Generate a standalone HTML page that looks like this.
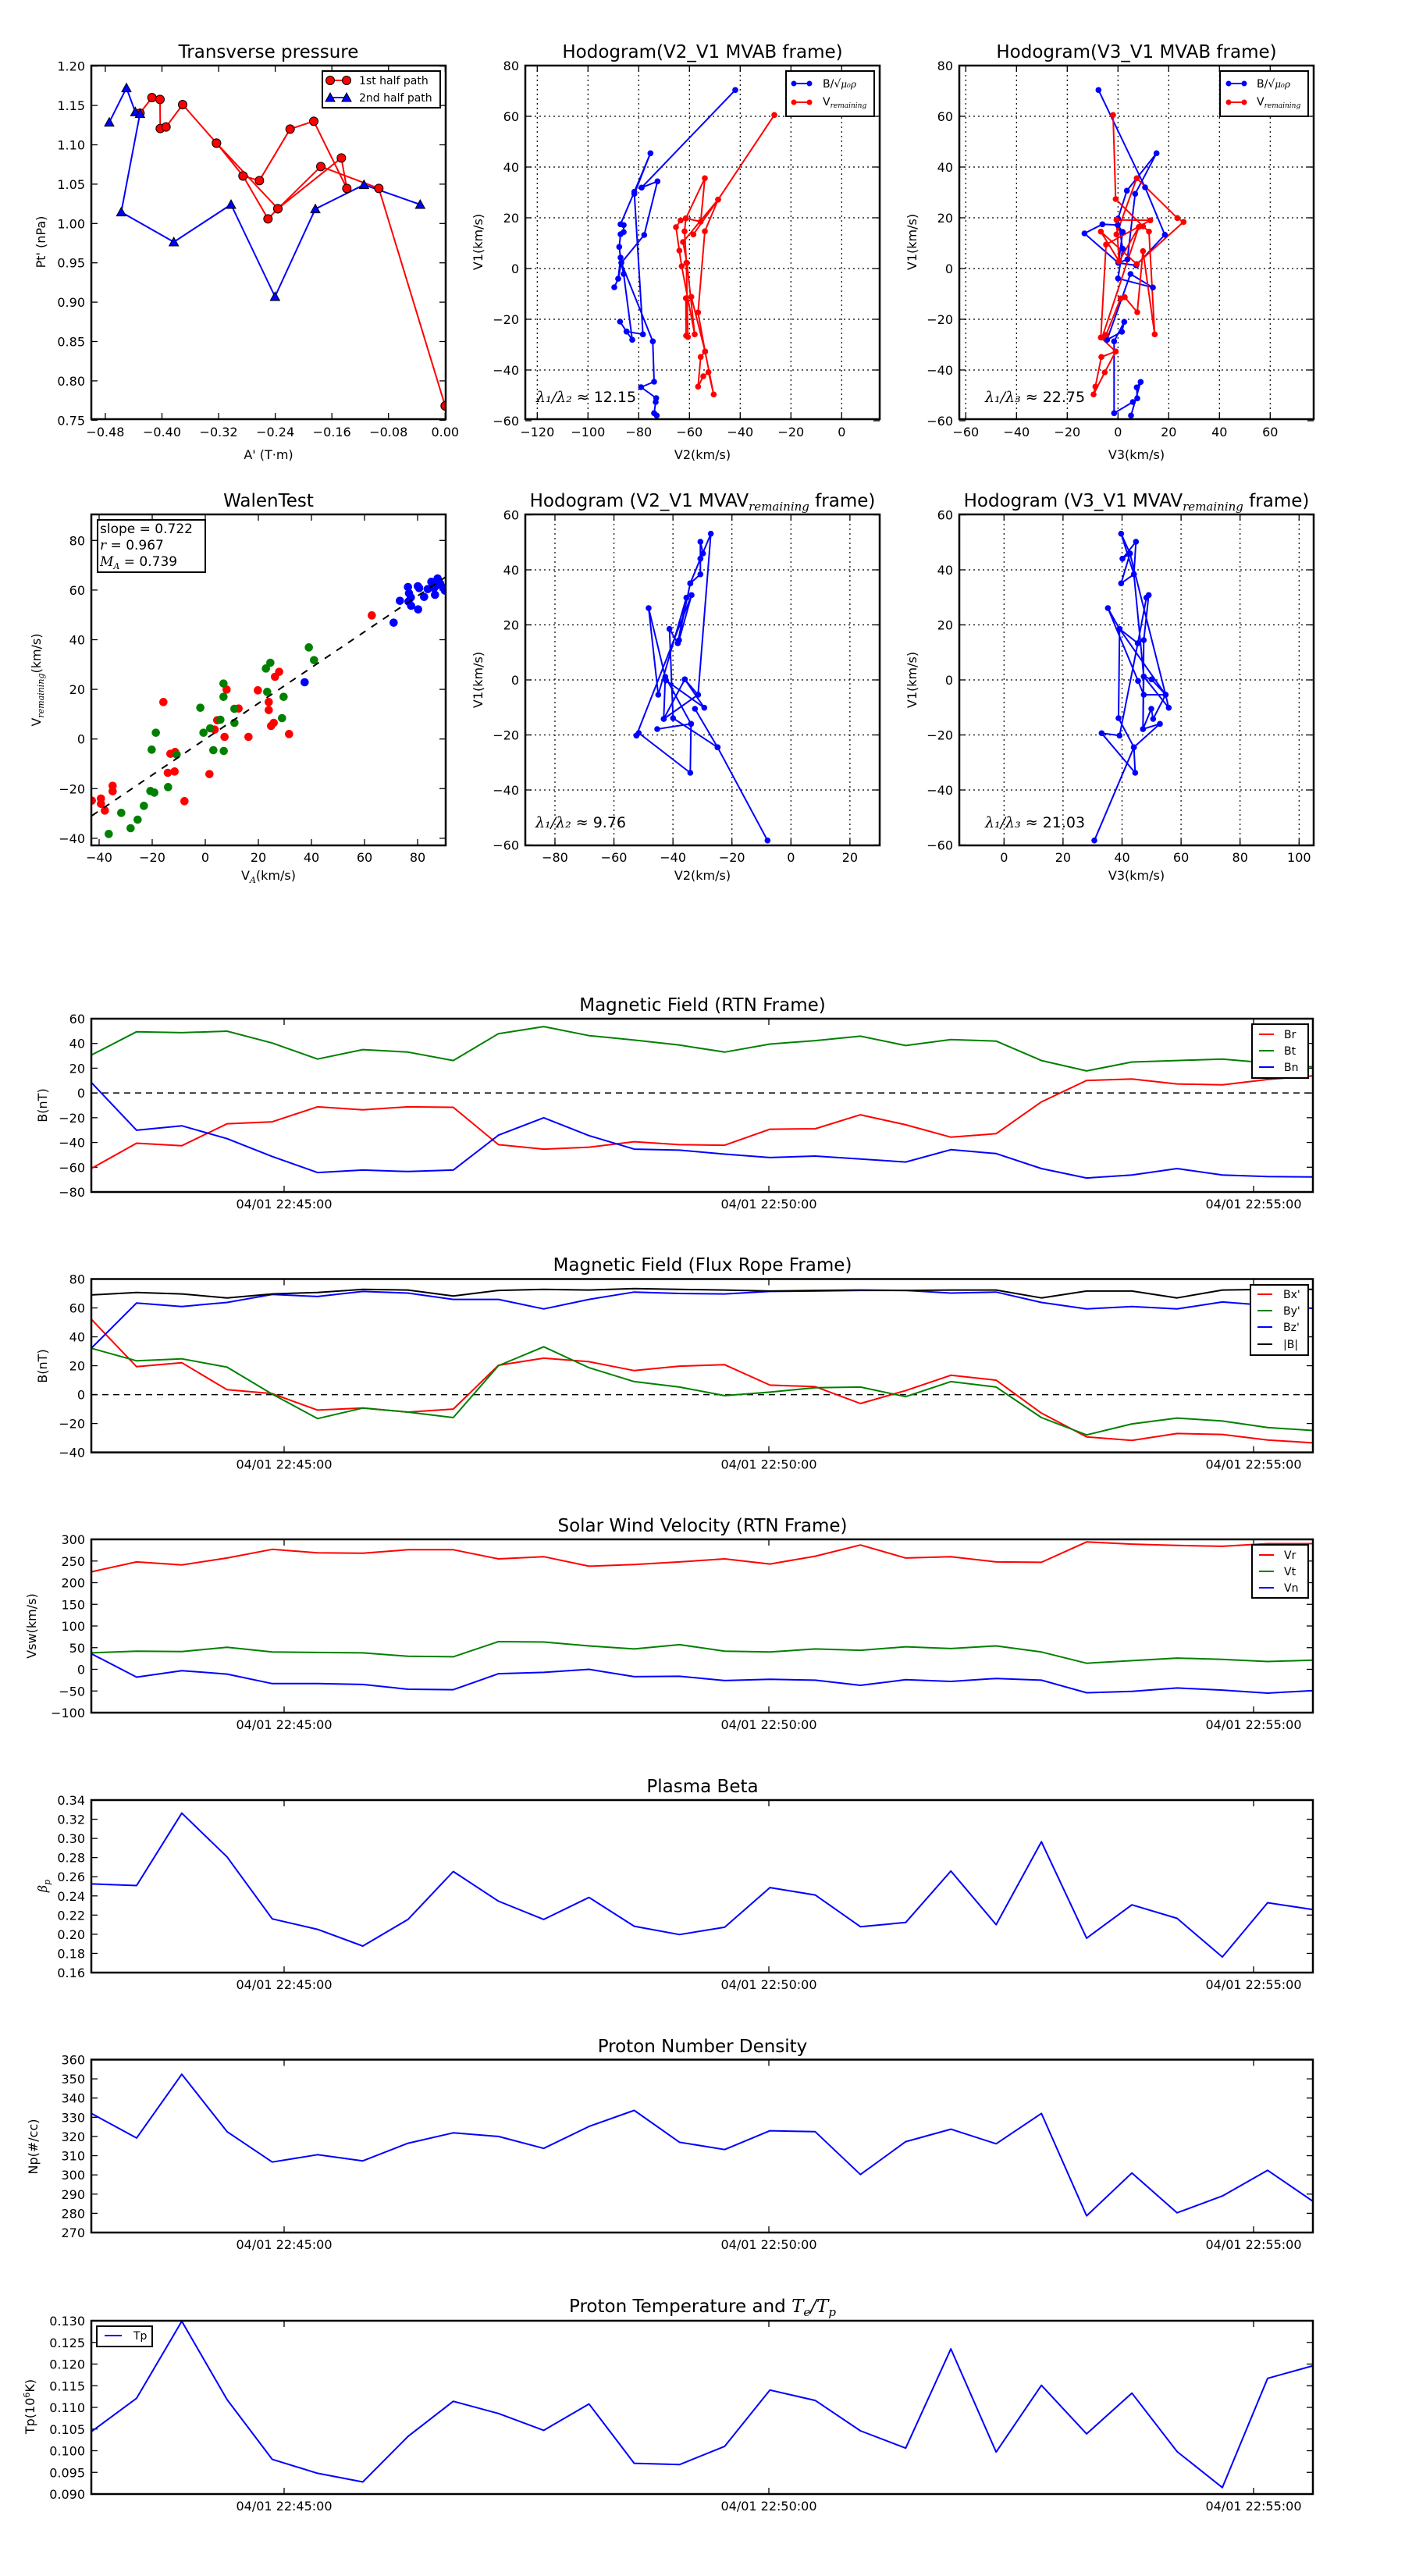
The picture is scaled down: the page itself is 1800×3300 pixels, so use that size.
<!DOCTYPE html>
<html><head><meta charset="utf-8"><style>
html,body{margin:0;padding:0;background:#fff;}
svg{display:block;font-family:"DejaVu Sans","Liberation Sans",sans-serif;}
</style></head><body>
<svg id="s" xmlns="http://www.w3.org/2000/svg" width="1800" height="3300" viewBox="0 0 1800 3300">
<rect width="1800" height="3300" fill="#fff"/>
<!-- static titles -->
<g font-size="23" text-anchor="middle" fill="#000">
<text x="344" y="74">Transverse pressure</text>
<text x="900" y="74">Hodogram(V2_V1 MVAB frame)</text>
<text x="1456" y="74">Hodogram(V3_V1 MVAB frame)</text>
<text x="344" y="649">WalenTest</text>
<text x="900" y="649">Hodogram (V2_V1 MVAV<tspan font-family="DejaVu Serif" font-style="italic" font-size="15" dy="5">remaining</tspan><tspan dy="-5"> frame)</tspan></text>
<text x="1456" y="649">Hodogram (V3_V1 MVAV<tspan font-family="DejaVu Serif" font-style="italic" font-size="15" dy="5">remaining</tspan><tspan dy="-5"> frame)</tspan></text>
<text x="900" y="1295">Magnetic Field (RTN Frame)</text>
<text x="900" y="1628">Magnetic Field (Flux Rope Frame)</text>
<text x="900" y="1962">Solar Wind Velocity (RTN Frame)</text>
<text x="900" y="2296">Plasma Beta</text>
<text x="900" y="2629">Proton Number Density</text>
<text x="900" y="2962">Proton Temperature and <tspan font-family="DejaVu Serif" font-style="italic">T</tspan><tspan font-family="DejaVu Serif" font-style="italic" font-size="15" dy="5">e</tspan><tspan font-family="DejaVu Serif" font-style="italic" dy="-5">/T</tspan><tspan font-family="DejaVu Serif" font-style="italic" font-size="15" dy="5">p</tspan></text>
</g>
<g font-size="16" text-anchor="middle" fill="#000">
<text x="344" y="588">A' (T·m)</text>
<text x="900" y="588">V2(km/s)</text>
<text x="1456" y="588">V3(km/s)</text>
<text x="344" y="1127">V<tspan font-family="DejaVu Serif" font-style="italic" font-size="11" dy="4">A</tspan><tspan dy="-4">(km/s)</tspan></text>
<text x="900" y="1127">V2(km/s)</text>
<text x="1456" y="1127">V3(km/s)</text>
<text transform="translate(58,310) rotate(-90)">Pt' (nPa)</text>
<text transform="translate(618,310) rotate(-90)">V1(km/s)</text>
<text transform="translate(1174,310) rotate(-90)">V1(km/s)</text>
<text transform="translate(52,871) rotate(-90)">V<tspan font-family="DejaVu Serif" font-style="italic" font-size="11" dy="4">remaining</tspan><tspan dy="-4">(km/s)</tspan></text>
<text transform="translate(618,871) rotate(-90)">V1(km/s)</text>
<text transform="translate(1174,871) rotate(-90)">V1(km/s)</text>
<text transform="translate(60,1416) rotate(-90)">B(nT)</text>
<text transform="translate(60,1750) rotate(-90)">B(nT)</text>
<text transform="translate(46,2083) rotate(-90)">Vsw(km/s)</text>
<text transform="translate(60,2416) rotate(-90)" font-family="DejaVu Serif" font-style="italic">β<tspan font-size="11" dy="4">p</tspan></text>
<text transform="translate(48,2750) rotate(-90)">Np(#/cc)</text>
<text transform="translate(44,3083) rotate(-90)">Tp(10<tspan font-size="11" dy="-6">6</tspan><tspan dy="6">K)</tspan></text>
</g>
<g font-size="19" fill="#000">
<text x="687" y="515"><tspan font-family="DejaVu Serif" font-style="italic">λ₁/λ₂</tspan> ≈ 12.15</text>
<text x="1262" y="515"><tspan font-family="DejaVu Serif" font-style="italic">λ₁/λ₃</tspan> ≈ 22.75</text>
<text x="686" y="1060"><tspan font-family="DejaVu Serif" font-style="italic">λ₁/λ₂</tspan> ≈ 9.76</text>
<text x="1262" y="1060"><tspan font-family="DejaVu Serif" font-style="italic">λ₁/λ₃</tspan> ≈ 21.03</text>
</g>
<g id="plots"></g>
<!-- Walen text box -->
<rect x="125" y="666" width="138" height="67" fill="#fff" stroke="#000" stroke-width="2"/>
<g font-size="17" fill="#000">
<text x="128" y="683">slope = 0.722</text>
<text x="128" y="704"><tspan font-family="DejaVu Serif" font-style="italic">r</tspan> = 0.967</text>
<text x="128" y="725"><tspan font-family="DejaVu Serif" font-style="italic">M</tspan><tspan font-family="DejaVu Serif" font-style="italic" font-size="11" dy="4">A</tspan><tspan dy="-4"> = 0.739</tspan></text>
</g>
<!-- legends -->
<g font-size="14" fill="#000">
<rect x="413" y="91" width="151" height="47" fill="#fff" stroke="#000" stroke-width="2"/>
<line x1="423" y1="103" x2="444" y2="103" stroke="#f00" stroke-width="2"/>
<circle cx="423" cy="103" r="5.5" fill="#f00" stroke="#000"/><circle cx="444" cy="103" r="5.5" fill="#f00" stroke="#000"/>
<text x="460" y="108">1st half path</text>
<line x1="423" y1="125" x2="444" y2="125" stroke="#00f" stroke-width="2"/>
<polygon points="417,130 423,119 429,130" fill="#00f" stroke="#000"/><polygon points="438,130 444,119 450,130" fill="#00f" stroke="#000"/>
<text x="460" y="130">2nd half path</text>

<rect x="1007" y="91" width="113" height="58" fill="#fff" stroke="#000" stroke-width="2"/>
<line x1="1017" y1="107" x2="1037" y2="107" stroke="#00f" stroke-width="2"/><circle cx="1017" cy="107" r="3.5" fill="#00f"/><circle cx="1037" cy="107" r="3.5" fill="#00f"/>
<text x="1054" y="112">B/√<tspan font-family="DejaVu Serif" font-style="italic" font-size="12">μ₀ρ</tspan></text>
<line x1="1017" y1="131" x2="1037" y2="131" stroke="#f00" stroke-width="2"/><circle cx="1017" cy="131" r="3.5" fill="#f00"/><circle cx="1037" cy="131" r="3.5" fill="#f00"/>
<text x="1054" y="135">V<tspan font-family="DejaVu Serif" font-style="italic" font-size="9" dy="3">remaining</tspan></text>

<rect x="1563" y="91" width="113" height="58" fill="#fff" stroke="#000" stroke-width="2"/>
<line x1="1574" y1="107" x2="1594" y2="107" stroke="#00f" stroke-width="2"/><circle cx="1574" cy="107" r="3.5" fill="#00f"/><circle cx="1594" cy="107" r="3.5" fill="#00f"/>
<text x="1610" y="112">B/√<tspan font-family="DejaVu Serif" font-style="italic" font-size="12">μ₀ρ</tspan></text>
<line x1="1574" y1="131" x2="1594" y2="131" stroke="#f00" stroke-width="2"/><circle cx="1574" cy="131" r="3.5" fill="#f00"/><circle cx="1594" cy="131" r="3.5" fill="#f00"/>
<text x="1610" y="135">V<tspan font-family="DejaVu Serif" font-style="italic" font-size="9" dy="3">remaining</tspan></text>

<rect x="1604" y="1312" width="72" height="69" fill="#fff" stroke="#000" stroke-width="2"/>
<line x1="1613" y1="1325" x2="1632" y2="1325" stroke="#f00" stroke-width="2"/><text x="1645" y="1330">Br</text>
<line x1="1613" y1="1346" x2="1632" y2="1346" stroke="#008000" stroke-width="2"/><text x="1645" y="1351">Bt</text>
<line x1="1613" y1="1367" x2="1632" y2="1367" stroke="#00f" stroke-width="2"/><text x="1645" y="1372">Bn</text>

<rect x="1602" y="1646" width="74" height="90" fill="#fff" stroke="#000" stroke-width="2"/>
<line x1="1611" y1="1658" x2="1630" y2="1658" stroke="#f00" stroke-width="2"/><text x="1644" y="1663">Bx'</text>
<line x1="1611" y1="1679" x2="1630" y2="1679" stroke="#008000" stroke-width="2"/><text x="1644" y="1684">By'</text>
<line x1="1611" y1="1700" x2="1630" y2="1700" stroke="#00f" stroke-width="2"/><text x="1644" y="1705">Bz'</text>
<line x1="1611" y1="1722" x2="1630" y2="1722" stroke="#000" stroke-width="2"/><text x="1644" y="1727">|B|</text>

<rect x="1604" y="1979" width="72" height="68" fill="#fff" stroke="#000" stroke-width="2"/>
<line x1="1613" y1="1992" x2="1632" y2="1992" stroke="#f00" stroke-width="2"/><text x="1645" y="1997">Vr</text>
<line x1="1613" y1="2013" x2="1632" y2="2013" stroke="#008000" stroke-width="2"/><text x="1645" y="2018">Vt</text>
<line x1="1613" y1="2034" x2="1632" y2="2034" stroke="#00f" stroke-width="2"/><text x="1645" y="2039">Vn</text>

<rect x="124" y="2980" width="71" height="26" fill="#fff" stroke="#000" stroke-width="2"/>
<line x1="134" y1="2992" x2="156" y2="2992" stroke="#00f" stroke-width="2"/><text x="171" y="2997">Tp</text>
</g>
</svg>
<script>
(function(){
var NS="http://www.w3.org/2000/svg",G=document.getElementById('plots');
function el(t,a,p){var e=document.createElementNS(NS,t);for(var k in a)e.setAttribute(k,a[k]);(p||G).appendChild(e);return e;}
function txt(x,y,s,anch,fs){var e=el('text',{x:x,y:y,'font-size':fs||15,'text-anchor':anch||'middle',fill:'#000'});e.textContent=s;return e;}
function fmt(v,d){var s=Math.abs(v).toFixed(d);return (v<-1e-9?'\u2212':'')+s;}
// generic axes: X(v)->px, Y(v)->px
function axes(o){
  var g=el('g',{});
  // grid
  if(o.grid){
    o.xt.forEach(function(v){var x=o.X(v);if(x>o.x0+1&&x<o.x1-1)el('line',{x1:x,y1:o.y0,x2:x,y2:o.y1,stroke:'#000','stroke-width':1.2,'stroke-dasharray':'2,4'});});
    o.yt.forEach(function(v){var y=o.Y(v);if(y>o.y0+1&&y<o.y1-1)el('line',{x1:o.x0,y1:y,x2:o.x1,y2:y,stroke:'#000','stroke-width':1.2,'stroke-dasharray':'2,4'});});
  }
  o.xt.forEach(function(v,i){var x=o.X(v);
    el('line',{x1:x,y1:o.y1,x2:x,y2:o.y1-8,stroke:'#000','stroke-width':1.3});
    el('line',{x1:x,y1:o.y0,x2:x,y2:o.y0+8,stroke:'#000','stroke-width':1.3});
    txt(x,o.y1+(o.xoff||21),o.xl?o.xl[i]:fmt(v,o.xd||0),'middle',o.fs||16);});
  o.yt.forEach(function(v){var y=o.Y(v);
    el('line',{x1:o.x0,y1:y,x2:o.x0+8,y2:y,stroke:'#000','stroke-width':1.3});
    el('line',{x1:o.x1,y1:y,x2:o.x1-8,y2:y,stroke:'#000','stroke-width':1.3});
    txt(o.x0-(o.yoff||8),y+6,fmt(v,o.yd||0),'end',o.fs||16);});
}
function frame(o){el('rect',{x:o.x0,y:o.y0,width:o.x1-o.x0,height:o.y1-o.y0,fill:'none',stroke:'#000','stroke-width':2.5});}
function clip(id,o){var c=el('clipPath',{id:id});el('rect',{x:o.x0,y:o.y0,width:o.x1-o.x0,height:o.y1-o.y0},c);return 'url(#'+id+')';}
function poly(pts,col,w,cp,extra){var a={points:pts.map(function(p){return p[0].toFixed(1)+','+p[1].toFixed(1)}).join(' '),fill:'none',stroke:col,'stroke-width':w||2,'stroke-linejoin':'round'};if(cp)a['clip-path']=cp;for(var k in extra)a[k]=extra[k];return el('polyline',a);}
function rng(a,b,s){var r=[];for(var v=a;v<=b+1e-9;v+=s)r.push(Math.round(v*1e6)/1e6);return r;}

// ---------- Panel 1: Transverse pressure
var P1={x0:117,x1:571,y0:84,y1:537,X:function(v){return 570.3+907*v},Y:function(v){return 84.7+(1.2-v)*1008},
  xt:rng(-0.48,0,0.08),yt:rng(0.75,1.2,0.05),xd:2,yd:2,xoff:22};
axes(P1);
var cp1=clip('c1',P1);
function zp(ox,oy,arr){return arr.map(function(p){return [ox+p[0]/3,oy+p[1]/3]});}
var red1=zp(110,80,[[208,195],[254,135],[285,142],[286,254],[308,248],[372,162],[502,310],[604,436],[667,454],[785,256],[876,226],[1003,484],[982,367],[738,562],[700,601],[604,436]]);
var red1b=zp(110,80,[[502,310],[738,562],[903,400],[1126,484],[1381,1320]]);
poly(red1,'#f00',2,cp1);poly(red1b,'#f00',2,cp1);
var blu1=zp(110,80,[[90,230],[156,98],[190,190],[208,197],[136,575],[338,690],[558,546],[727,900],[882,563],[1069,470],[1285,546]]);
poly(blu1,'#00f',2,cp1);
red1.concat(red1b).forEach(function(p){el('circle',{cx:p[0],cy:p[1],r:5.5,fill:'#f00',stroke:'#000','stroke-width':1,'clip-path':cp1});});
blu1.forEach(function(p){el('polygon',{points:(p[0]-6)+','+(p[1]+5)+' '+p[0]+','+(p[1]-6)+' '+(p[0]+6)+','+(p[1]+5),fill:'#00f',stroke:'#000','stroke-width':1,'clip-path':cp1});});
frame(P1);

// ---------- Hodograms
function dots(pts,col,cp){pts.forEach(function(p){el('circle',{cx:p[0],cy:p[1],r:3.8,fill:col,'clip-path':cp});});}
var H2={x0:673,x1:1127,y0:84,y1:537,X:function(v){return 1078.3+3.25*v},Y:function(v){return 344-3.25*v},xt:rng(-120,0,20),yt:rng(-60,80,20),grid:1,xoff:22};
axes(H2);var c2=clip('c2',H2);
var hb2=zp(675,80,[[801,106],[441,481],[502,457],[451,663],[363,770],[351,831],[336,864],[351,831],[360,750],[355,709],[360,660],[372,652],[372,625],[360,622],[413,497],[475,349],[413,505],[446,1045],[383,1034],[358,996],[383,1034],[405,1066],[372,813],[363,770],[484,1072],[489,1227],[439,1248],[497,1290],[495,1305],[489,1348],[499,1357]]);
var hr2=zp(675,80,[[951,202],[735,527],[684,649],[658,961],[685,1111],[668,1132],[658,1246],[678,1206],[698,1190],[718,1276],[685,1111],[632,901],[611,906],[612,1050],[619,1055],[613,770],[606,649],[611,599],[684,445],[668,612],[611,599],[591,607],[573,633],[586,723],[595,783],[645,1045],[615,770],[600,690],[735,527],[640,661]]);
poly(hb2,'#00f',2,c2);poly(hr2,'#f00',2,c2);dots(hb2,'#00f',c2);dots(hr2,'#f00',c2);frame(H2);

var H3={x0:1229,x1:1683,y0:84,y1:537,X:function(v){return 1432.3+3.25*v},Y:function(v){return 344-3.25*v},xt:rng(-60,60,20),yt:rng(-60,80,20),grid:1,xoff:22};
axes(H3);var c3=clip('c3',H3);
var hb3=zp(1237,80,[[511,106],[690,480],[766,662],[656,780],[587,770],[457,657],[526,622],[585,625],[604,651],[588,770],[622,757],[652,505],[734,349],[620,493],[586,600],[604,716],[586,830],[720,865],[634,813],[544,1066],[601,1035],[610,997],[571,1072],[571,1348],[643,1305],[660,1291],[658,1249],[673,1228],[636,1357]]);
var hr3=zp(1237,80,[[567,202],[577,525],[682,630],[705,650],[727,1045],[682,725],[660,960],[612,902],[596,907],[540,1047],[525,1057],[666,632],[590,764],[580,605],[710,607],[540,700],[520,1057],[577,1111],[522,1132],[499,1246],[492,1276],[535,1191],[577,1111]]);
var hr3b=zp(1237,80,[[580,661],[658,445],[814,598],[838,613],[658,775],[520,650],[590,764]]);
poly(hb3,'#00f',2,c3);poly(hr3,'#f00',2,c3);poly(hr3b,'#f00',2,c3);dots(hb3,'#00f',c3);dots(hr3,'#f00',c3);dots(hr3b,'#f00',c3);frame(H3);

// ---------- Walen
var W={x0:117,x1:571,y0:659,y1:1083,X:function(v){return 263+3.4*v},Y:function(v){return 946.7-3.18*v},xt:rng(-40,80,20),yt:rng(-40,80,20)};
axes(W);var cw=clip('cw',W);
function wp(arr,col){zp(60,620,arr).forEach(function(p){el('circle',{cx:p[0],cy:p[1],r:5.3,fill:col,'clip-path':cw});});}
wp([[173,1217],[208,1209],[208,1229],[223,1255],[253,1160],[253,1181],[448,838],[475,1037],[493,1030],[465,1110],[491,1105],[529,1219],[625,1115],[645,944],[655,908],[683,972],[691,790],[737,863],[775,972],[811,793],[853,838],[853,869],[862,930],[872,918],[877,741],[893,722],[931,961],[1249,505]],'#f00');
wp([[238,1345],[286,1264],[322,1323],[349,1290],[373,1237],[398,1180],[413,1186],[403,1021],[419,956],[466,1165],[499,1040],[590,860],[602,956],[628,939],[640,1023],[667,906],[679,767],[679,818],[680,1026],[721,864],[721,918],[842,709],[847,799],[859,687],[904,900],[910,818],[1007,628],[1027,677]],'#008000');
wp([[991,762],[1333,533],[1357,449],[1388,396],[1392,420],[1390,452],[1400,468],[1399,436],[1427,482],[1426,393],[1431,400],[1450,434],[1464,404],[1478,376],[1492,426],[1498,390],[1502,363],[1512,383],[1525,400],[1530,410],[1488,400],[1505,375]],'#00f');
var dl=zp(60,620,[[173,1275],[1532,358]]);
el('line',{x1:dl[0][0],y1:dl[0][1],x2:dl[1][0],y2:dl[1][1],stroke:'#000','stroke-width':2,'stroke-dasharray':'9,9','clip-path':cw});
frame(W);

var V2={x0:673,x1:1127,y0:659,y1:1083,X:function(v){return 1013.3+3.779*v},Y:function(v){return 871-3.525*v},xt:rng(-80,20,20),yt:rng(-60,60,20),grid:1};
axes(V2);var c4=clip('c4',V2);
var v2p=zp(640,620,[[1030,1370],[838,1012],[751,864],[838,1012],[667,900],[653,557],[685,612],[690,600],[738,427],[526,967],[535,957],[733,1110],[736,922],[606,942],[736,922],[637,741],[631,903],[712,751],[787,860],[640,755],[573,477],[610,810],[718,437],[685,612],[733,382],[772,347],[772,287],[782,267],[772,222],[772,287],[733,382],[812,191],[763,810],[631,903],[712,751],[763,810]]);
poly(v2p,'#00f',2,c4);dots(v2p,'#00f',c4);frame(V2);

var V3={x0:1229,x1:1683,y0:659,y1:1083,X:function(v){return 1286.3+3.78*v},Y:function(v){return 871-3.525*v},xt:rng(0,100,20),yt:rng(-60,60,20),grid:1};
axes(V3);var c5=clip('c5',V3);
var v3p=zp(1200,620,[[606,1370],[758,1012],[858,922],[793,942],[796,740],[826,751],[880,810],[796,810],[774,757],[658,477],[703,557],[773,612],[806,437],[815,427],[796,600],[793,942],[825,864],[832,903],[880,810],[892,860],[796,740],[758,347],[709,382],[743,267],[714,287],[766,222],[758,347],[709,191],[743,267],[880,810],[703,557],[699,900],[758,1012],[763,1110],[634,958],[703,967],[773,612]]);
poly(v3p,'#00f',2,c5);dots(v3p,'#00f',c5);frame(V3);

// ---------- Time series
function ts(o,series){
  o.x0=117;o.x1=1682;
  var t=o;var xs=[364,985,1606];
  var sc=(o.y1-o.y0)/(o.top-o.bot);o.Y=function(v){return o.y0+(o.top-v)*sc};
  o.X=function(v){return v};o.xt=xs;o.xl=['04/01 22:45:00','04/01 22:50:00','04/01 22:55:00'];o.yt=rng(o.bot,o.top,o.step);
  axes(o);var cp=clip('t'+o.y0,o);
  if(o.zero)el('line',{x1:o.x0,y1:o.Y(0),x2:o.x1,y2:o.Y(0),stroke:'#000','stroke-width':1.5,'stroke-dasharray':'8,6'});
  series.forEach(function(s){poly(s[1].map(function(v,i){return [117+i*57.96,o.Y(v)]}),s[0],2,cp);});
  frame(o);
}
ts({y0:1305,y1:1527,top:60,bot:-80,step:20,zero:1},[
 ['#008000',[30.6,49.5,48.7,49.9,40.3,27.4,35.0,33.0,26.2,47.9,53.6,46.3,42.7,38.7,33.0,39.5,42.3,45.9,38.3,43.1,41.9,26.2,17.8,25.0,26.2,27.4,24.2,21.0]],
 ['#f00',[-61,-40.6,-42.6,-24.9,-23.3,-11.2,-13.6,-11.2,-11.6,-41.8,-45.4,-43.8,-39.4,-41.8,-42.2,-29.3,-28.9,-17.6,-25.7,-35.7,-32.9,-7.2,10.1,11.3,7.3,6.5,10.9,13.8]],
 ['#00f',[8.5,-30.1,-26.5,-36.9,-51.4,-64.3,-62.3,-63.5,-62.3,-34.1,-20.0,-34.5,-45.4,-46.2,-49.4,-52.2,-51.0,-53.4,-55.8,-45.8,-49.0,-61.1,-68.7,-66.3,-61.1,-66.3,-67.5,-67.9]]]);
ts({y0:1638.5,y1:1860.6,top:80,bot:-40,step:20,zero:1},[
 ['#f00',[52.1,19.3,22.1,3.4,0.7,-10.7,-9.3,-12.1,-10.0,20.3,25.2,22.8,16.6,19.7,20.7,6.6,5.5,-6.2,2.8,13.4,10.0,-12.8,-29.3,-31.7,-26.9,-27.6,-31.4,-33.4]],
 ['#008000',[32.1,23.4,24.8,19.0,0.3,-16.6,-9.3,-12.1,-15.9,20.0,33.1,18.6,9.0,5.2,-0.7,1.7,4.8,5.2,-1.4,9.0,5.2,-15.9,-27.9,-20.3,-16.2,-18.3,-22.8,-24.8]],
 ['#00f',[32.1,63.4,61.0,63.8,69.3,67.9,71.4,70.3,65.9,65.9,59.3,65.9,71.0,70.0,69.7,71.4,71.7,72.1,72.1,70.3,71.0,63.8,59.3,61.0,59.3,64.1,61.7,59.7]],
 ['#000',[69,70.7,69.7,66.9,69.7,70.7,72.8,72.4,68.3,72.1,72.8,72.4,73.4,72.8,72.4,71.7,72.1,72.4,72.1,72.4,72.4,66.9,71.7,71.7,66.9,72.4,72.8,72.8]]]);
ts({y0:1972,y1:2194,top:300,bot:-100,step:50},[
 ['#f00',[225,248,241,257,277,269,268,276,276,255,260,238,242,248,255,243,261,287,257,260,248,247,294,289,286,284,290,290]],
 ['#008000',[38,42,41,51,40,39,38,30,29,64,63,54,47,57,42,40,47,44,52,48,54,40,14,20,26,23,18,21]],
 ['#00f',[36,-18,-3,-11,-33,-33,-35,-46,-47,-10,-7,0,-17,-16,-26,-23,-25,-37,-24,-28,-21,-25,-54,-51,-43,-48,-55,-49]]]);
ts({y0:2306,y1:2527,top:0.34,bot:0.16,step:0.02,yd:2},[
 ['#00f',[.2525,.2508,.3264,.2807,.216,.2051,.1877,.2155,.2655,.2345,.2155,.2384,.2084,.1997,.2073,.2487,.241,.2079,.2123,.266,.21,.2965,.1959,.2307,.2166,.1763,.2329,.2258]]]);
ts({y0:2638.5,y1:2860,top:360,bot:270,step:10},[
 ['#00f',[332,319.2,352.4,322.5,306.7,310.5,307.3,316.5,321.9,320,313.8,325.2,333.6,317,313.2,323,322.5,300.2,317.3,323.8,316.2,332,278.7,301,280.3,289,302.4,286.3]]]);
ts({y0:2973,y1:3195,top:0.13,bot:0.09,step:0.005,yd:3},[
 ['#00f',[.1044,.1121,.1299,.1118,.098,.0948,.0928,.1033,.1114,.1086,.1047,.1108,.0971,.0968,.101,.114,.1116,.1046,.1006,.1235,.0997,.1151,.1039,.1133,.0998,.0915,.1167,.1196]]]);
// move legends/textbox above plots
var s=document.getElementById('s');var after=G.nextSibling;
})();
</script>
</body></html>
